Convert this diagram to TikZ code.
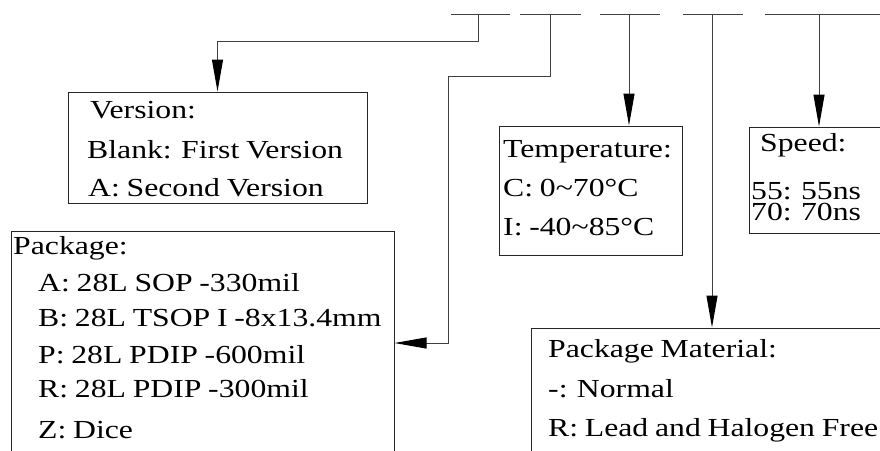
\documentclass[tikz,border=0pt]{standalone}
\usepackage{fontspec}
\setmainfont[FakeStretch=1.22, WordSpace=0.85]{Liberation Serif}
\usetikzlibrary{arrows.meta}

\begin{document}
\begin{tikzpicture}[x=1pt, y=-1pt, font=\fontsize{26}{28}\selectfont,
  box/.style={draw=black!85, line width=1pt, inner sep=0pt},
  txt/.style={anchor=base west, inner sep=0pt},
  line/.style={draw=black!75, line width=1pt},
  arr/.style={line, -{Triangle[length=32pt, width=11pt, color=black]}}]
  \useasboundingbox (0,0) rectangle (880,450);
  \clip (0,0) rectangle (880,450);

  % part number fields
  \foreach \a/\b in {451/510, 520/581, 600/660, 683/743, 765/880}
    \draw[line] (\a,14) -- (\b,14);
  \coordinate (d1) at (478,14);
  \coordinate (d2) at (550,14);
  \coordinate (d3) at (629,14);
  \coordinate (d4) at (712,14);
  \coordinate (d5) at (819,14);

  % boxes
  \node[box, minimum width=299pt, minimum height=111pt] (ver) at (217.5,147.5) {};
  \node[box, minimum width=383pt, minimum height=224pt] (pkg) at (202.5,343) {};
  \node[box, minimum width=183pt, minimum height=129pt] (tmp) at (590.5,190.5) {};
  \node[box, minimum width=151pt, minimum height=106pt] (spd) at (824.5,180) {};
  \node[box, minimum width=398pt, minimum height=144pt] (mat) at (730,400) {};

  \node[txt] (ver1) at (90,118) {Version:};
  \node[txt] (ver2) at (87,158) {Blank: First Version};
  \node[txt] (ver3) at (88,196) {A: Second Version};

  \node[txt] (pkg1) at (13,254) {Package:};
  \node[txt] (pkg2) at (38,291) {A: 28L SOP -330mil};
  \node[txt] (pkg3) at (38,326) {B: 28L TSOP I -8x13.4mm};
  \node[txt] (pkg4) at (38,363) {P: 28L PDIP -600mil};
  \node[txt] (pkg5) at (38,397) {R: 28L PDIP -300mil};
  \node[txt] (pkg6) at (38,438) {Z: Dice};

  \node[txt] (tmp1) at (503,157) {Temperature:};
  \node[txt] (tmp2) at (503,196) {C: 0\textasciitilde70°C};
  \node[txt] (tmp3) at (503,235) {I: -40\textasciitilde85°C};

  \node[txt] (spd1) at (760,151) {Speed:};
  \node[txt] (spd2) at (751,199) {55: 55ns};
  \node[txt] (spd3) at (751,220) {70: 70ns};

  \node[txt] (mat1) at (548,357) {Package Material:};
  \node[txt] (mat2) at (548,397) {-: Normal};
  \node[txt] (mat3) at (548,436) {R: Lead and Halogen Free};

  % connectors
  \draw[arr] (d1) -- (478,41) -| (ver.north);
  \draw[arr] (d2) -- (550,76) -- (448,76) |- (pkg.east);
  \draw[arr] (d3) -- (d3 |- tmp.north);
  \draw[arr] (d4) -- (d4 |- mat.north);
  \draw[arr] (d5) -- (d5 |- spd.north);
\end{tikzpicture}
\end{document}
